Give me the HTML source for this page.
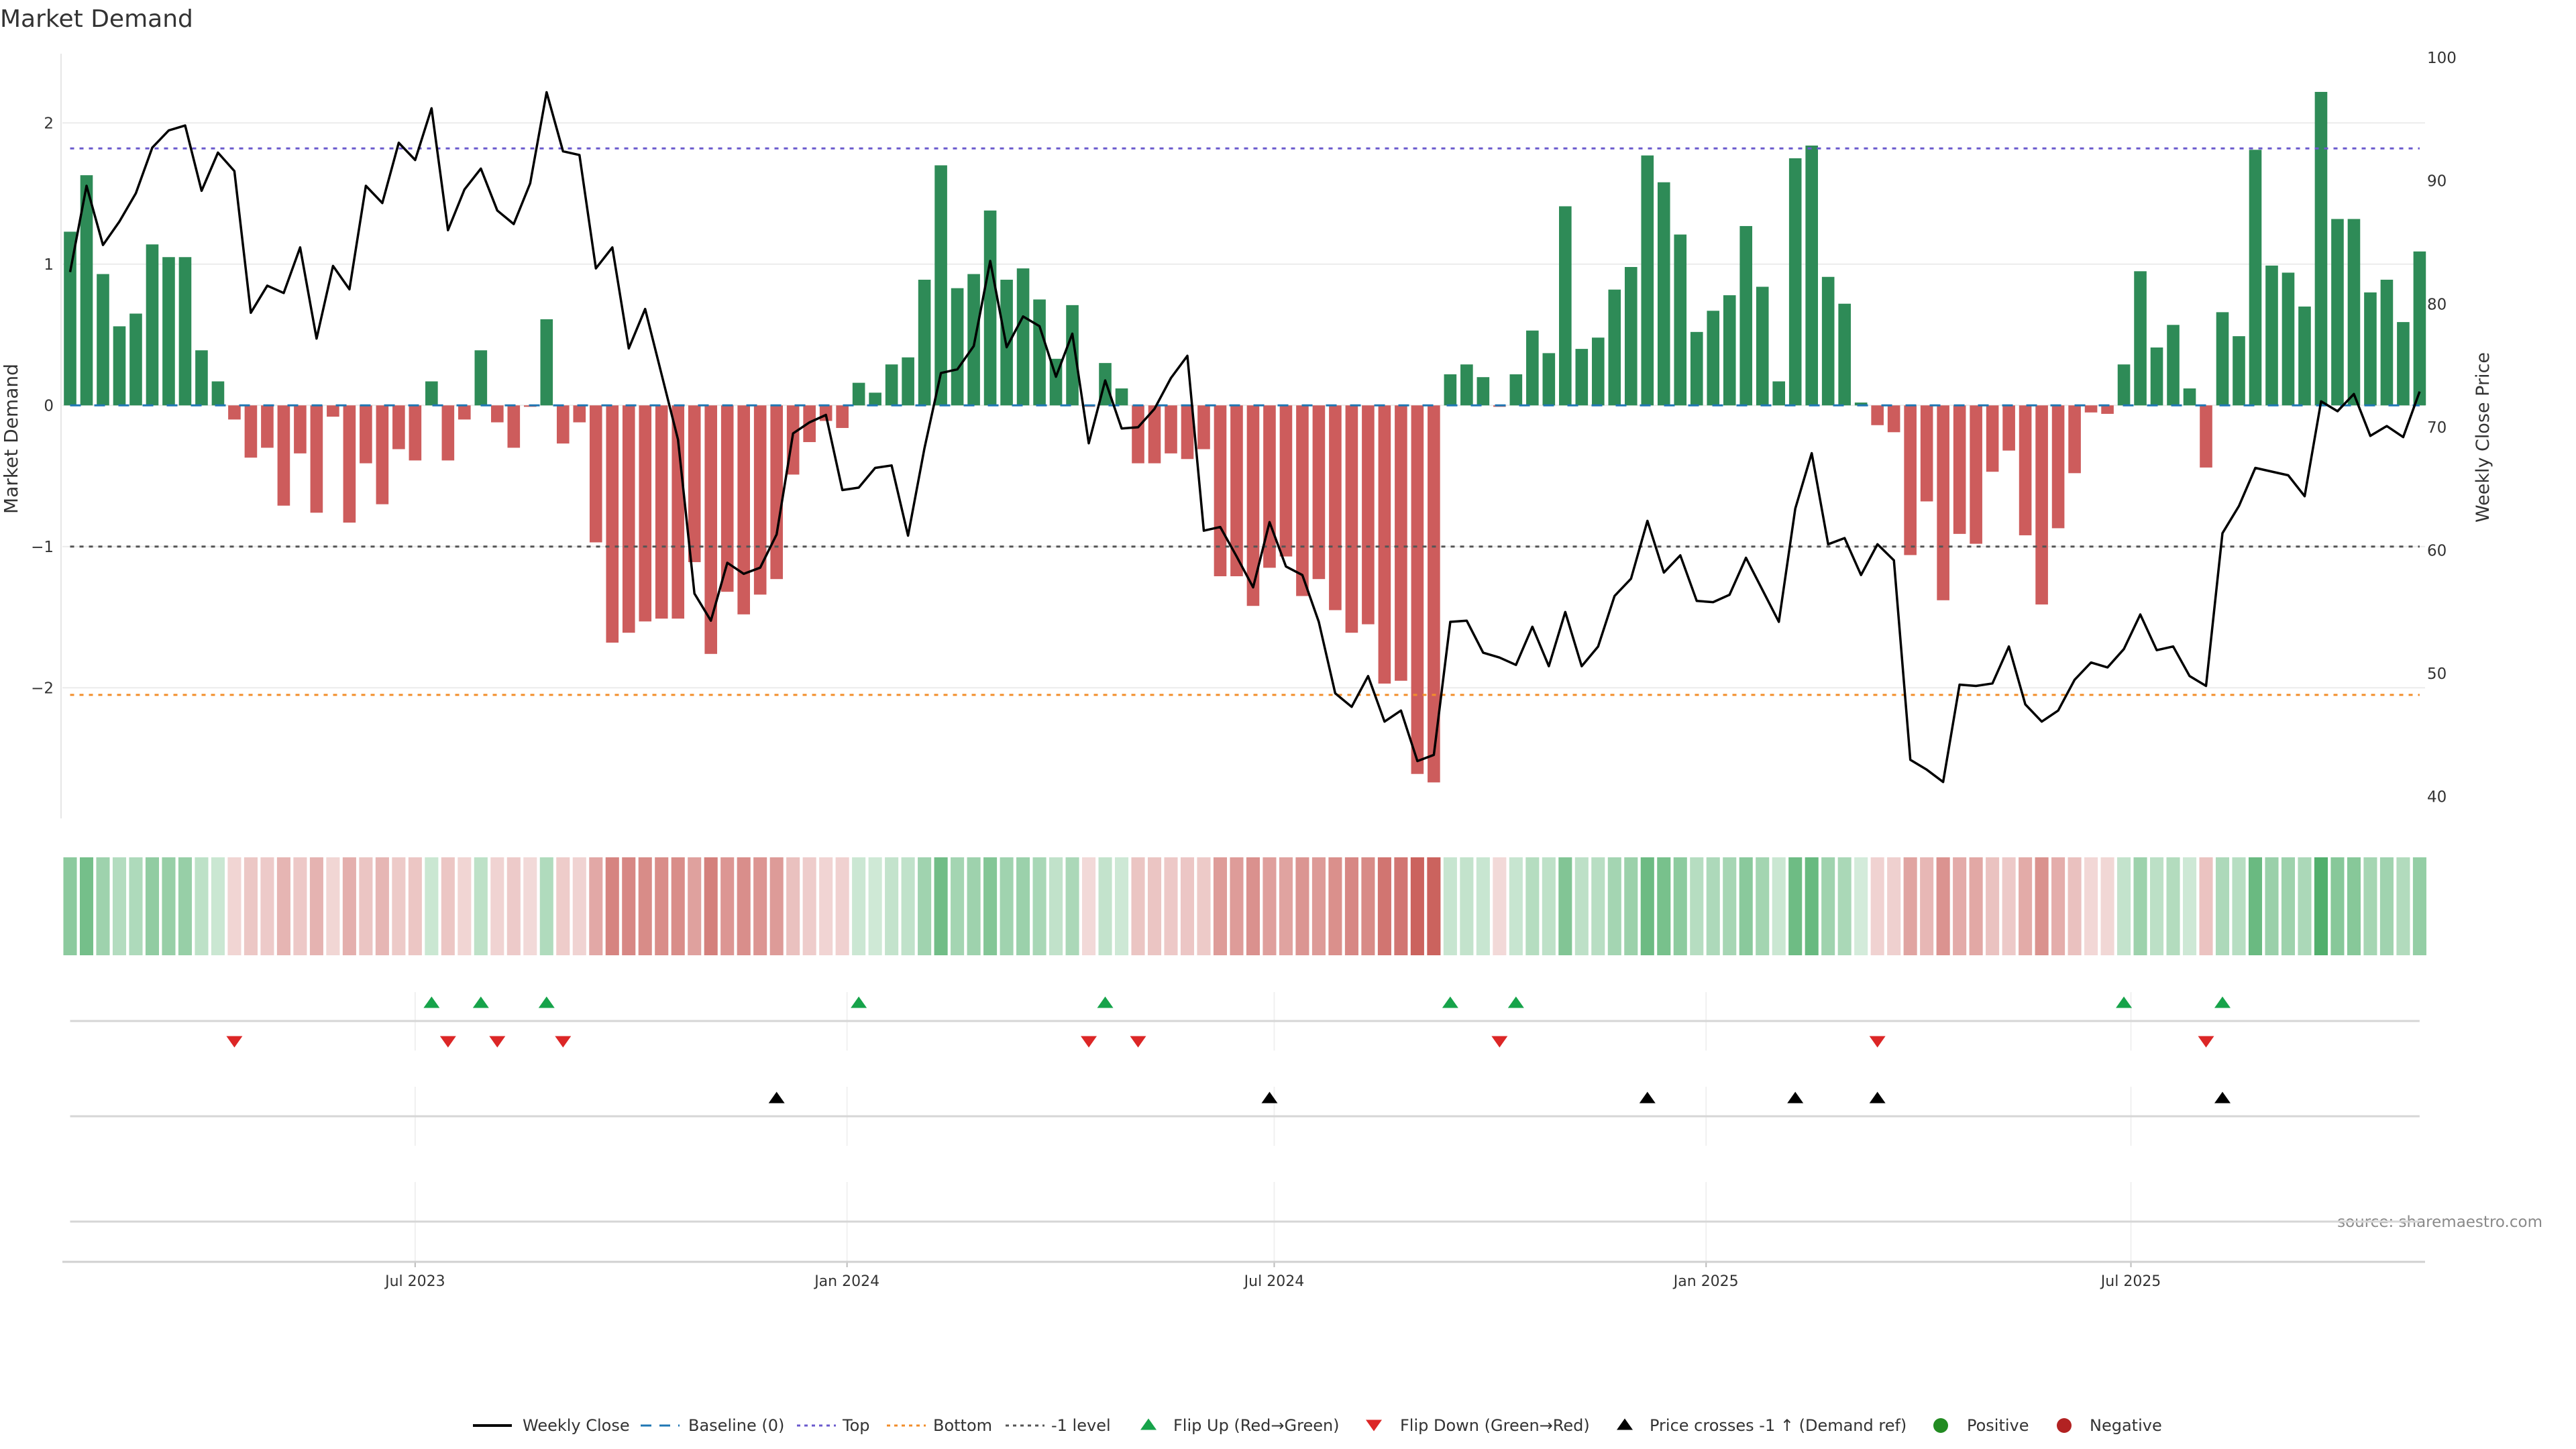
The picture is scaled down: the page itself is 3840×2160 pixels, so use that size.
<!DOCTYPE html>
<html><head><meta charset="utf-8">
<style>
html,body{margin:0;padding:0;background:#fff;}
svg{display:block;font-family:"DejaVu Sans","Liberation Sans",sans-serif;}
</style></head>
<body>
<svg id="chart" width="3840" height="2160" viewBox="0 0 3840 2160" xmlns="http://www.w3.org/2000/svg">
<text x="0" y="40" font-size="36" fill="#333">Market Demand</text>
<text transform="translate(26,654) rotate(-90)" text-anchor="middle" font-size="28" fill="#333">Market Demand</text>
<text transform="translate(3710,652) rotate(-90)" text-anchor="middle" font-size="27" fill="#333">Weekly Close Price</text>
<text x="3790" y="1829" text-anchor="end" font-size="23" fill="#8a8a8a">source: sharemaestro.com</text>
<g id="layer"></g>
</svg>
<script>
const demand = [1.23,1.63,0.93,0.56,0.65,1.14,1.05,1.05,0.39,0.17,
-0.10,-0.37,-0.30,-0.71,-0.34,-0.76,-0.08,-0.83,-0.41,-0.70,
-0.31,-0.39,0.17,-0.39,-0.10,0.39,-0.12,-0.30,-0.01,0.61,
-0.27,-0.12,-0.97,-1.68,-1.61,-1.53,-1.51,-1.51,-1.11,-1.76,
-1.32,-1.48,-1.34,-1.23,-0.49,-0.26,-0.11,-0.16,0.16,0.09,
0.29,0.34,0.89,1.70,0.83,0.93,1.38,0.89,0.97,0.75,
0.33,0.71,-0.01,0.30,0.12,-0.41,-0.41,-0.34,-0.38,-0.31,
-1.21,-1.21,-1.42,-1.15,-1.07,-1.35,-1.23,-1.45,-1.61,-1.55,
-1.97,-1.95,-2.61,-2.67,0.22,0.29,0.20,-0.01,0.22,0.53,
0.37,1.41,0.40,0.48,0.82,0.98,1.77,1.58,1.21,0.52,
0.67,0.78,1.27,0.84,0.17,1.75,1.84,0.91,0.72,0.02,
-0.14,-0.19,-1.06,-0.68,-1.38,-0.91,-0.98,-0.47,-0.32,-0.92,
-1.41,-0.87,-0.48,-0.05,-0.06,0.29,0.95,0.41,0.57,0.12,
-0.44,0.66,0.49,1.81,0.99,0.94,0.70,2.22,1.32,1.32,
0.80,0.89,0.59,1.09];
const closePrice = [82.6,89.6,84.8,86.7,89.0,92.7,94.1,94.5,89.2,92.3,
90.8,79.3,81.5,80.9,84.6,77.2,83.1,81.2,89.6,88.2,
93.1,91.7,95.9,86.0,89.3,91.0,87.6,86.5,89.8,97.2,
92.4,92.1,82.9,84.6,76.4,79.6,74.3,69.0,56.5,54.3,
59.0,58.1,58.6,61.3,69.5,70.4,71.0,64.9,65.1,66.7,
66.9,61.2,68.3,74.4,74.7,76.6,83.5,76.5,79.0,78.2,
74.1,77.6,68.7,73.8,69.9,70.0,71.5,74.0,75.8,61.6,
61.9,59.5,57.0,62.3,58.7,58.0,54.2,48.4,47.3,49.8,
46.1,47.0,42.9,43.4,54.2,54.3,51.7,51.3,50.7,53.8,
50.6,55.0,50.6,52.2,56.3,57.7,62.4,58.2,59.6,55.9,
55.8,56.4,59.4,56.8,54.2,63.4,67.9,60.5,61.0,58.0,
60.5,59.2,43.0,42.2,41.2,49.1,49.0,49.2,52.2,47.5,
46.1,47.0,49.5,50.9,50.5,52.0,54.8,51.9,52.2,49.8,
49.0,61.4,63.6,66.7,66.4,66.1,64.4,72.1,71.3,72.7,
69.3,70.1,69.2,72.9];
const leftTicks = [-2,-1,0,1,2];
const rightTicks = [40,50,60,70,80,90,100];
const levelTop = [1.82];
const levelBottom = [-2.05];
const levelMinus1 = [-1];
const dateTickLabels = ["Jul 2023","Jan 2024","Jul 2024","Jan 2025","Jul 2025"];
const dateTickDates = ["2023-07-01","2024-01-01","2024-07-01","2025-01-01","2025-07-01"];
const startDate = "2023-02-04";

const NS = "http://www.w3.org/2000/svg";
const layer = document.getElementById('layer');
const N = demand.length;
const X0 = 93, X1 = 3615;
const dMin = -0.47, dMax = (N - 1) + 0.33;
function xOf(i){ return X0 + (i - dMin) * (X1 - X0) / (dMax - dMin); }
function yL(v){ return 604.3 - v * 210.5; }
function yR(p){ return 86.1 + (100 - p) * 18.36; }
const step = (X1 - X0) / (dMax - dMin);
function idxOfDate(s){ return (Date.parse(s) - Date.parse(startDate)) / (7*86400000); }
function mk(tag, attrs, parent){
  const el = document.createElementNS(NS, tag);
  for (const k in attrs) el.setAttribute(k, attrs[k]);
  (parent || layer).appendChild(el);
  return el;
}
let el;
// gridlines main
for (const t of leftTicks){
  el = mk('line',{x1:X0,x2:X1,y1:yL(t),y2:yL(t),stroke:'#ececec','stroke-width':2});
  
  
  el = mk('text',{x:80,y:yL(t)+8,'text-anchor':'end','font-size':23,fill:'#333'});
  el.textContent = t < 0 ? '\u2212' + Math.abs(t) : String(t);
  
  
}
for (const t of rightTicks){
  el = mk('text',{x:3618,y:yR(t)+8,'font-size':23,fill:'#333'});
  el.textContent = String(t);
  
  
}
el = mk('line',{x1:91,x2:91,y1:80,y2:1220,stroke:'#e6e6e6','stroke-width':2});



// bars
const bw = step * 0.76;
for (let i = 0; i < N; i++){
  const v = demand[i];
  const y0 = yL(0), y1 = yL(v);
  el = mk('rect',{x:xOf(i)-bw/2,y:Math.min(y0,y1),width:bw,height:Math.max(Math.abs(y1-y0),0.5),fill:v>=0?'#2e8b57':'#cd5c5c'});
  
  
}
// level lines
function hline(v, color, dash, name){
  const e = mk('line',{x1:xOf(0),x2:xOf(N-1),y1:yL(v),y2:yL(v),stroke:color,'stroke-width':3,'stroke-dasharray':dash});
  return e;
}
el = hline(0,'#1f77b4','16,20');


el = hline(levelTop[0],'#6a5acd','6,8');


el = hline(levelBottom[0],'#f28e2b','6,8');


el = hline(levelMinus1[0],'#555','6,8');


// price line
let d = '';
for (let i = 0; i < N; i++) d += (i ? 'L' : 'M') + xOf(i).toFixed(1) + ',' + yR(closePrice[i]).toFixed(1);
el = mk('path',{d:d,fill:'none',stroke:'#000','stroke-width':3.5,'stroke-linejoin':'round'});



// heatmap strip
const cw = step * 0.82;
for (let i = 0; i < N; i++){
  const v = demand[i];
  const a = Math.min(0.92, 0.22 + Math.abs(v) * 0.3);
  const base = v >= 0 ? [60,165,90] : [198,85,80];
  const c = base.map(b => Math.round(255 - a * (255 - b)));
  el = mk('rect',{x:xOf(i)-cw/2,y:1278,width:cw,height:146,fill:'rgb('+c.join(',')+')'});
  
  
}

// lower panels: vertical date grid + horizontal lines
const tickIdx = dateTickDates.map(idxOfDate);
const panels = [[1479,1566],[1620,1708],[1762,1881]];
for (let k = 0; k < tickIdx.length; k++){
  const x = xOf(tickIdx[k]);
  for (const p of panels){
    el = mk('line',{x1:x,x2:x,y1:p[0],y2:p[1],stroke:'#f0f0f0','stroke-width':2});
    
    
  }
  el = mk('line',{x1:x,x2:x,y1:1881,y2:1889,stroke:'#bbb','stroke-width':2});
  
  
  el = mk('text',{x:x,y:1917,'text-anchor':'middle','font-size':22,fill:'#333'});
  el.textContent = dateTickLabels[k];
  
  
}
for (const y of [1522,1664,1821]){
  el = mk('line',{x1:xOf(0),x2:xOf(N-1),y1:y,y2:y,stroke:'#d6d6d6','stroke-width':3});
  
  
}
el = mk('line',{x1:X0,x2:X1,y1:1881,y2:1881,stroke:'#d0d0d0','stroke-width':3});



function tri(cx, cy, up, color){
  const w = 12, h = 17;
  const pts = up ? [cx-w,cy+h/2, cx+w,cy+h/2, cx,cy-h/2] : [cx-w,cy-h/2, cx+w,cy-h/2, cx,cy+h/2];
  return mk('polygon',{points:pts.join(','),fill:color});
}
// flips
for (let i = 1; i < N; i++){
  if (demand[i] > 0 && demand[i-1] <= 0){
    el = tri(xOf(i),1494,true,'#16a34a');
    
    
  }
  if (demand[i] < 0 && demand[i-1] >= 0){
    el = tri(xOf(i),1553,false,'#dc2626');
    
    
  }
}
// price crosses -1 demand reference (in price units)
const refPrice = 100 - (yL(levelMinus1[0]) - 86.1) / 18.36;
for (let i = 1; i < N; i++){
  if (closePrice[i] > refPrice && closePrice[i-1] <= refPrice){
    el = tri(xOf(i),1636,true,'#000');
    
    
  }
}

// legend
const LY = 2125;
const lg = mk('g',{});


function ltext(x, s){
  const t = mk('text',{x:x,y:LY+8,'font-size':24,fill:'#333'},lg);
  t.textContent = s;
  return t;
}
function lline(x, color, dash, w){
  return mk('line',{x1:x,x2:x+58,y1:LY,y2:LY,stroke:color,'stroke-width':w,'stroke-dasharray':dash},lg);
}
el = lline(705,'#000','none',4);


el = ltext(779,'Weekly Close');


el = lline(955,'#1f77b4','16,12',3);


el = ltext(1026,'Baseline (0)');


el = lline(1188,'#6a5acd','5,6',3);


el = ltext(1256,'Top');


el = lline(1322,'#f28e2b','5,6',3);


el = ltext(1391,'Bottom');


el = lline(1499,'#555','5,6',3);


el = ltext(1567,'-1 level');


el = tri(1712,LY-2,true,'#16a34a');
lg.appendChild(el);


el = ltext(1749,'Flip Up (Red\u2192Green)');


el = tri(2048,LY,false,'#dc2626');
lg.appendChild(el);


el = ltext(2087,'Flip Down (Green\u2192Red)');


el = tri(2422,LY-2,true,'#000');
lg.appendChild(el);


el = ltext(2459,'Price crosses -1 \u2191 (Demand ref)');


el = mk('circle',{cx:2893,cy:LY,r:11,fill:'#228b22'},lg);


el = ltext(2932,'Positive');


el = mk('circle',{cx:3077,cy:LY,r:11,fill:'#b22222'},lg);


el = ltext(3115,'Negative');


</script>
</body></html>
